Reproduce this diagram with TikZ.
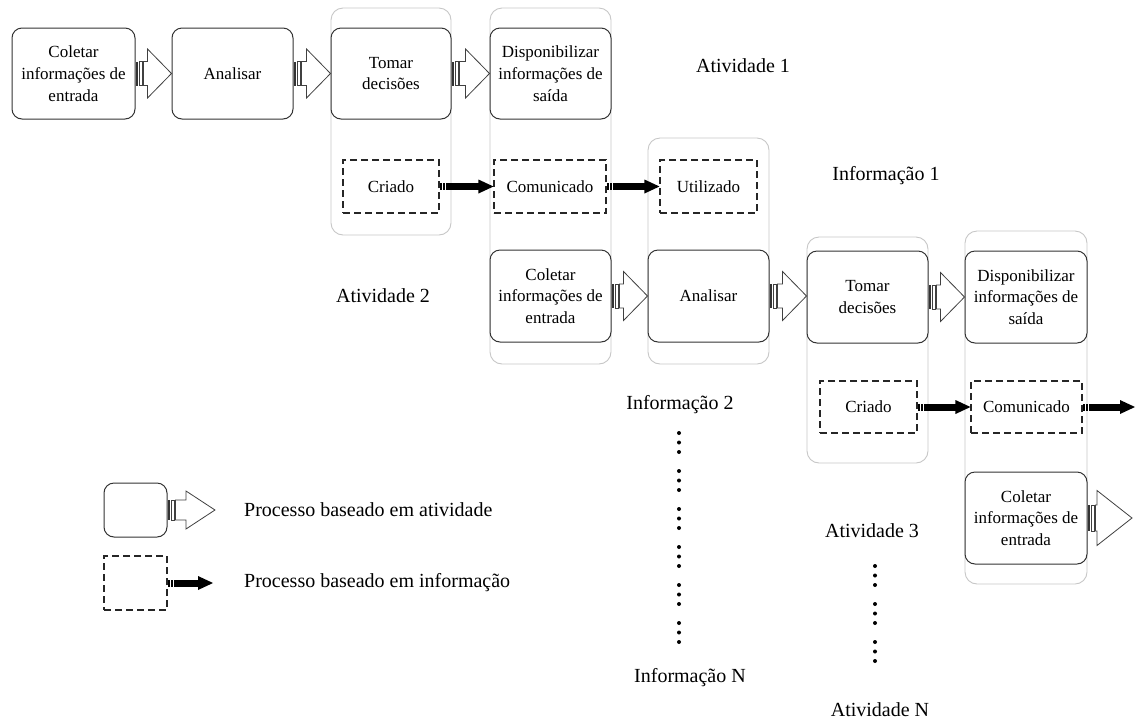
\documentclass[tikz,border=0pt]{standalone}
\usepackage{fontspec}
\setmainfont{Liberation Serif}
\usetikzlibrary{calc}
\newcommand\boxfont{\fontsize{17}{21.7}\selectfont}
\newcommand\lblfont{\fontsize{20}{24}\selectfont}
\tikzset{
 act/.style={draw=black!80, line width=1pt, rounded corners=10pt, fill=white, align=center, font=\boxfont, inner sep=2pt},
 info/.style={draw=black!85, line width=1.1pt, dash pattern=on 7pt off 4pt, fill=white, align=center, font=\boxfont, inner sep=2pt},
 cont/.style={draw=black!22, line width=0.9pt, rounded corners=12pt, fill=white},
 lbl/.style={font=\lblfont, inner sep=0pt},
 barrow/.style={draw=black!75, line width=0.8pt, fill=white, line join=miter},
}
% block arrow: #1 start, #2 end, #3 head length, #4 head half height, #5 stem half height
\newcommand\blkarrow[5]{%
 \fill[black!80] let \p1=(#1) in (\x1,\y1-#5) rectangle (\x1+2pt,\y1+#5);
 \draw[barrow] let \p1=(#1) in (\x1+3.5pt,\y1-#5) rectangle (\x1+6.5pt,\y1+#5);
 \draw[barrow] let \p1=(#1),\p2=(#2) in (\x1+8pt,\y1-#5) -- (\x2-#3,\y1-#5) -- (\x2-#3,\y1-#4) -- (\x2,\y1) -- (\x2-#3,\y1+#4) -- (\x2-#3,\y1+#5) -- (\x1+8pt,\y1+#5) -- cycle;
}
% information arrow
\newcommand\infarrow[2]{%
 \draw[line width=7pt] let \p1=(#1),\p2=(#2) in (\x1,\y1) -- (\x2-13pt,\y1);
 \fill let \p1=(#1),\p2=(#2) in (\x2-15pt,\y1+7pt) -- (\x2,\y1) -- (\x2-15pt,\y1-7pt) -- cycle;
 \draw[white,line width=0.8pt] let \p1=(#1) in (\x1+3pt,\y1-4pt) -- (\x1+3pt,\y1+4pt) (\x1+5.5pt,\y1-4pt) -- (\x1+5.5pt,\y1+4pt);
}
\begin{document}
\begin{tikzpicture}[x=1pt,y=-1pt]
\useasboundingbox (0,0) rectangle (1136,724);
% containers
\node[cont, minimum width=120pt, minimum height=227pt] (k1) at (391,121.5) {};
\node[cont, minimum width=121pt, minimum height=356pt] (k2) at (550.5,186) {};
\node[cont, minimum width=121pt, minimum height=226pt] (k3) at (708.5,251) {};
\node[cont, minimum width=121pt, minimum height=226pt] (k4) at (867.5,350) {};
\node[cont, minimum width=122pt, minimum height=353pt] (k5) at (1026,407.5) {};
% activity boxes
\node[act, minimum width=123pt, minimum height=91pt] (a1) at (73.5,73.5) {Coletar\\informações de\\entrada};
\node[act, minimum width=121pt, minimum height=91pt] (a2) at (232.5,73.5) {Analisar};
\node[act, minimum width=120pt, minimum height=91pt] (a3) at (391,73.5) {Tomar\\decisões};
\node[act, minimum width=121pt, minimum height=91pt] (a4) at (550.5,73.5) {Disponibilizar\\informações de\\saída};
\node[act, minimum width=121pt, minimum height=92pt] (b1) at (550.5,296) {Coletar\\informações de\\entrada};
\node[act, minimum width=121pt, minimum height=92pt] (b2) at (708.5,296) {Analisar};
\node[act, minimum width=121pt, minimum height=92pt] (b3) at (867.5,297) {Tomar\\decisões};
\node[act, minimum width=122pt, minimum height=92pt] (b4) at (1026,297) {Disponibilizar\\informações de\\saída};
\node[act, minimum width=122pt, minimum height=92pt] (c1) at (1026,518) {Coletar\\informações de\\entrada};
% information boxes
\node[info, minimum width=96pt, minimum height=53pt] (i1) at (391,186.5) {Criado};
\node[info, minimum width=112pt, minimum height=53pt] (i2) at (550,186.5) {Comunicado};
\node[info, minimum width=97pt, minimum height=53pt] (i3) at (708.5,186.5) {Utilizado};
\node[info, minimum width=97pt, minimum height=52pt] (j1) at (868.5,407) {Criado};
\node[info, minimum width=111pt, minimum height=52pt] (j2) at (1026.5,407) {Comunicado};
\coordinate (jout) at (1135,407);
\coordinate (cout) at (1132,518);
% block arrows
\blkarrow{a1.east}{a2.west}{24pt}{24.5pt}{12pt}
\blkarrow{a2.east}{a3.west}{24pt}{24.5pt}{12pt}
\blkarrow{a3.east}{a4.west}{24pt}{24.5pt}{12pt}
\blkarrow{b1.east}{b2.west}{24pt}{24.5pt}{12pt}
\blkarrow{b2.east}{b3.west}{24pt}{24.5pt}{12pt}
\blkarrow{b3.east}{b4.west}{24pt}{24.5pt}{12pt}
\blkarrow{c1.east}{cout}{35pt}{27.5pt}{13pt}
% information arrows
\infarrow{i1.east}{i2.west}
\infarrow{i2.east}{i3.west}
\infarrow{j1.east}{j2.west}
\infarrow{j2.east}{jout}
% labels
\node[lbl] (t1) at (743,66) {Atividade 1};
\node[lbl] (t2) at (886,176) {Informação 1};
\node[lbl] (t3) at (383,296) {Atividade 2};
\node[lbl] (t4) at (680,405) {Informação 2};
\node[lbl] (t5) at (690,678) {Informação N};
\node[lbl] (t6) at (872,531) {Atividade 3};
\node[lbl] (t7) at (880,710) {Atividade N};
% dots
\foreach \g in {0,...,5} \foreach \d in {0,1,2} \fill (679,433+\g*38+\d*9.5) circle (2pt);
\foreach \g in {0,1,2} \foreach \d in {0,1,2} \fill (875,566+\g*38+\d*9.5) circle (2pt);
% legend
\node[act, minimum width=63pt, minimum height=54pt] (la) at (135.5,510) {};
\node[info, minimum width=63pt, minimum height=54pt] (li) at (135.5,583) {};
\coordinate (laend) at (215,510);
\coordinate (liend) at (213,584);
\blkarrow{la.east}{laend}{29pt}{19pt}{10pt}
\infarrow{li.east}{liend}
\node[lbl, anchor=west] (lt1) at (244,510) {Processo baseado em atividade};
\node[lbl, anchor=west] (lt2) at (244,583) {Processo baseado em informação};
\end{tikzpicture}
\end{document}
